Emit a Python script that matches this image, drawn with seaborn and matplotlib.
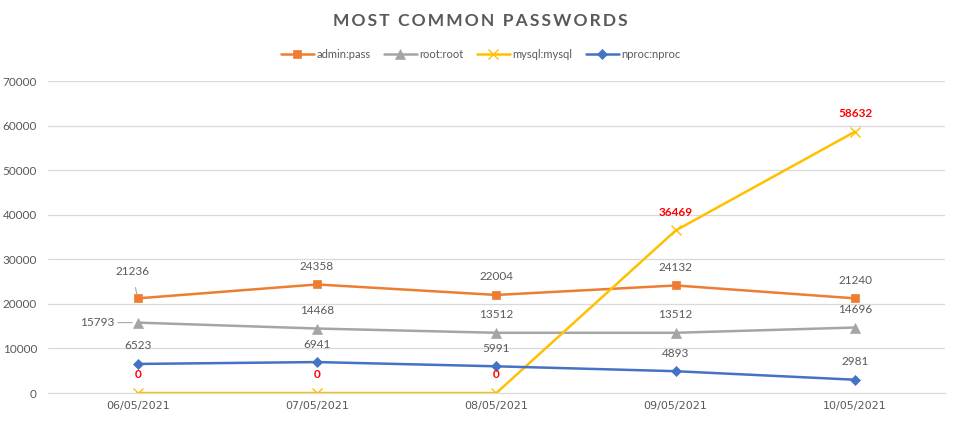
import numpy as np
import pandas as pd
import matplotlib
matplotlib.use("Agg")
import matplotlib.pyplot as plt
import seaborn as sns

# data
dates = ["06/05/2021", "07/05/2021", "08/05/2021", "09/05/2021", "10/05/2021"]
admin_pass = [21236, 24358, 22004, 24132, 21240]
root_root = [15793, 14468, 13512, 13512, 14696]
mysql_mysql = [0, 0, 0, 36469, 58632]
nproc_nproc = [6523, 6941, 5991, 4893, 2981]

series_names = ["admin:pass", "root:root", "mysql:mysql", "nproc:nproc"]
series_values = [admin_pass, root_root, mysql_mysql, nproc_nproc]
colors = ["#ED7D31", "#A5A5A5", "#FFC000", "#4472C4"]
markers = ["s", "^", "x", "D"]
msizes = [6, 7, 7, 5]

sns.set_style("white")
plt.rcParams["font.family"] = ["Lato", "DejaVu Sans"]

df = pd.DataFrame({
    "date": np.tile(dates, len(series_names)),
    "value": np.concatenate(series_values),
    "series": np.repeat(series_names, len(dates)),
})

fig = plt.figure(figsize=(9.61, 4.22), dpi=100)
ax = fig.add_axes([0.05, 0.0687, 0.933, 0.7393])

for name, col, mk, ms in zip(series_names, colors, markers, msizes):
    sub = df[df["series"] == name]
    sns.lineplot(data=sub, x="date", y="value", ax=ax, color=col, marker=mk,
                 markersize=ms, markeredgecolor=col, markeredgewidth=1.0 if mk == "x" else 0.5,
                 linewidth=1.8, label=name, sort=False)

label_grey = "#595959"
txt_kw = dict(fontsize=8.5, ha="center", va="center")

# admin:pass labels
for i, v in enumerate(admin_pass):
    if i == 0:
        ax.annotate(str(v), xy=(i, v), xytext=(-4, 19), textcoords="offset points",
                    color=label_grey, arrowprops=dict(arrowstyle="-", color="#A6A6A6", lw=0.8,
                                                      shrinkA=5, shrinkB=3), **txt_kw)
    else:
        ax.annotate(str(v), xy=(i, v), xytext=(0, 13), textcoords="offset points",
                    color=label_grey, **txt_kw)

# root:root labels
for i, v in enumerate(root_root):
    if i == 0:
        ax.annotate(str(v), xy=(i, v), xytext=(-29, 0), textcoords="offset points",
                    color=label_grey, arrowprops=dict(arrowstyle="-", color="#A6A6A6", lw=0.8,
                                                      shrinkA=15, shrinkB=4), **txt_kw)
    else:
        ax.annotate(str(v), xy=(i, v), xytext=(0, 13), textcoords="offset points",
                    color=label_grey, **txt_kw)

# nproc:nproc labels
for i, v in enumerate(nproc_nproc):
    ax.annotate(str(v), xy=(i, v), xytext=(0, 13), textcoords="offset points",
                color=label_grey, **txt_kw)

# mysql:mysql labels
for i, v in enumerate(mysql_mysql):
    ax.annotate(str(v), xy=(i, v), xytext=(0, 13), textcoords="offset points",
                color="#FF0000", fontweight="bold", **txt_kw)

ax.set_ylim(0, 70000)
ax.set_xlim(-0.5, 4.5)
ax.set_yticks(np.arange(0, 70001, 10000))
ax.set_xlabel("")
ax.set_ylabel("")
ax.grid(axis="y", color="#D9D9D9", linewidth=0.9)
ax.set_axisbelow(True)
for s in ["top", "right", "left"]:
    ax.spines[s].set_visible(False)
ax.spines["bottom"].set_color("#D9D9D9")
ax.tick_params(axis="both", length=0, colors=label_grey, labelsize=8.5)
ax.tick_params(axis="y", pad=8)
ax.tick_params(axis="x", pad=6)
for t in ax.get_xticklabels():
    t.set_fontfamily(["DejaVu Sans"])
    t.set_fontsize(8)

ax.get_legend().remove()
handles, labels = ax.get_legend_handles_labels()
fig.legend(handles, labels, loc="center", bbox_to_anchor=(0.5, 0.87), ncol=4,
           frameon=False, fontsize=8, handlelength=3.0, columnspacing=1.2,
           handletextpad=0.2, labelcolor=label_grey)

title = "  ".join("\u2009".join(w) for w in "MOST COMMON PASSWORDS".split())
fig.text(0.5, 0.951, title, ha="center", va="center", fontsize=12.5,
         fontweight="bold", color=label_grey, family=["Lato", "DejaVu Sans"])

fig.savefig("out.png", dpi=100)
